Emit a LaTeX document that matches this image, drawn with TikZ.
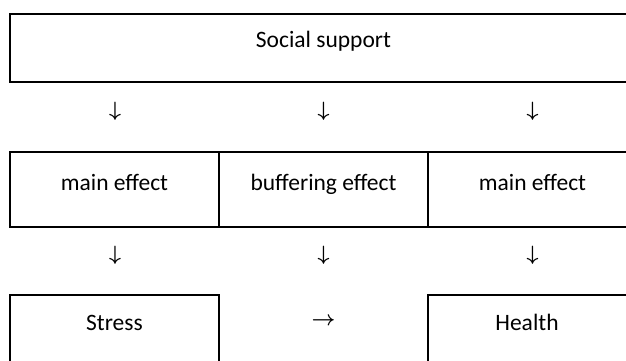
\documentclass[tikz,border=0pt]{standalone}
\usepackage{fontspec}
\setmainfont{Carlito}

\begin{document}
\begin{tikzpicture}[x=1pt, y=-1pt,
    cell/.style={line width=1.7pt},
    label/.style={anchor=base, inner sep=0pt, font=\fontsize{23.5}{26}\selectfont},
    glyph/.style={inner sep=0pt, font=\fontsize{20}{24}\selectfont\boldmath}]
    % Frame of the picture
    \useasboundingbox (0,0) rectangle (626,361);
    \clip (0,0) rectangle (626,361);

    % Top row: social support
    \draw[cell] (10,14) rectangle (637,82);
    \node[label] (support) at (323.5,48) {Social support};

    % Arrows below the top row
    \node[glyph] (down1) at (115,111) {$\downarrow$};
    \node[glyph] (down2) at (323.5,111) {$\downarrow$};
    \node[glyph] (down3) at (532.5,111) {$\downarrow$};

    % Middle row: the three effects
    \draw[cell] (10,152) rectangle (637,227);
    \draw[cell] (219,152) -- (219,227);
    \draw[cell] (428,152) -- (428,227);
    \node[label] (mainleft) at (114.5,190.5) {main effect};
    \node[label] (buffer) at (323.5,190.5) {buffering effect};
    \node[label] (mainright) at (532.5,190.5) {main effect};

    % Arrows below the middle row
    \node[glyph] (down4) at (115,255) {$\downarrow$};
    \node[glyph] (down5) at (323.5,255) {$\downarrow$};
    \node[glyph] (down6) at (532.5,255) {$\downarrow$};

    % Bottom row: stress and health
    \draw[cell] (10,380) -- (10,295) -- (219,295) -- (219,380);
    \draw[cell] (428,380) -- (428,295) -- (637,295);
    \node[label] (stress) at (114.5,330) {Stress};
    \node[glyph] (right) at (323.5,321) {$\rightarrow$};
    \node[label] (health) at (527,330) {Health};
\end{tikzpicture}
\end{document}
